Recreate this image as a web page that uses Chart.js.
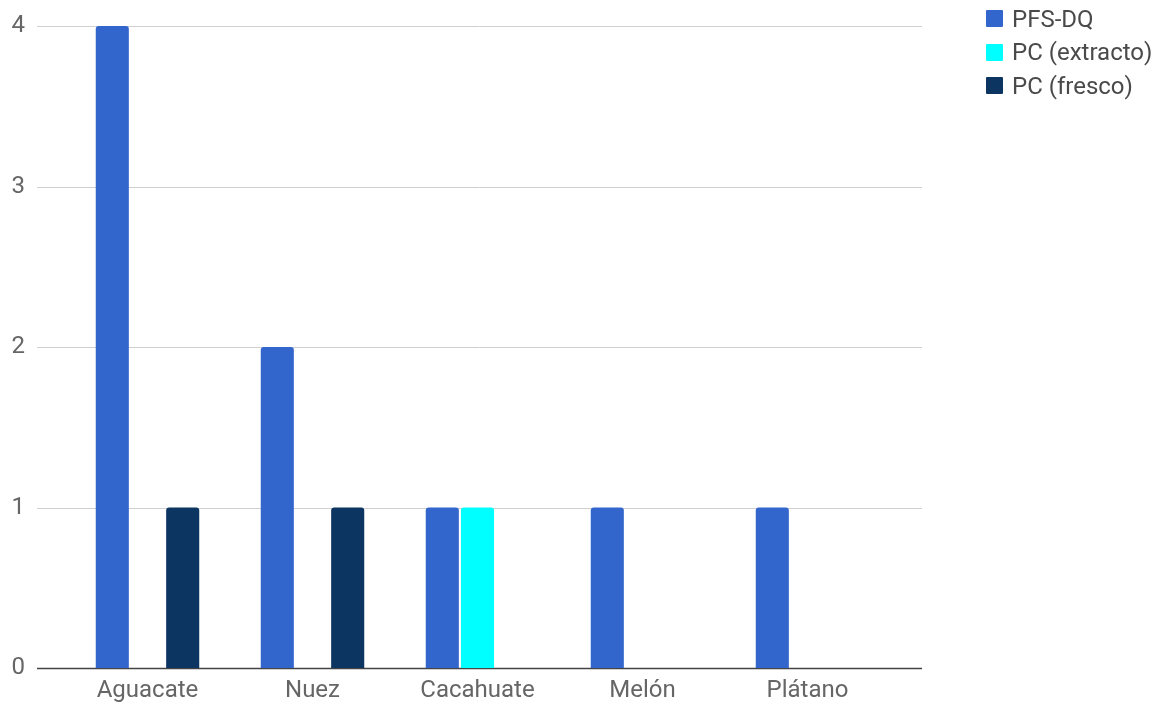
<!DOCTYPE html>
<html>
<head>
<meta charset="utf-8">
<script src="https://cdn.jsdelivr.net/npm/chart.js@4.4.0/dist/chart.umd.min.js"></script>
<style>
  html, body { margin: 0; padding: 0; background: #fff; }
  #wrap { position: relative; width: 1164px; height: 708px; }
  #chart { display: block; }
  #legend { position: absolute; left: 986px; top: 2px; font-family: Roboto, sans-serif; font-size: 24px; color: #4a4a4a; }
  .leg-item { display: flex; align-items: center; height: 33.5px; }
  .leg-box { width: 17px; height: 17px; margin-right: 9px; border-radius: 1px; }
</style>
</head>
<body>
<div id="wrap">
  <canvas id="chart" width="1164" height="708"></canvas>
  <div id="legend"></div>
</div>
<script>
// categorías y series
const categorias = ['Aguacate', 'Nuez', 'Cacahuate', 'Melón', 'Plátano'];
const serieNombres = ['PFS-DQ', 'PC (extracto)', 'PC (fresco)'];
const pfsDq = [4, 2, 1, 1, 1];
const pcExtracto = [null, null, 1, null, null];
const pcFresco = [1, 1, null, null, null];
const yTicks = [0, 1, 2, 3, 4];
const colores = ['#3366cc', '#00ffff', '#0c3561'];

// líneas horizontales más largas que el área de barras
const gridPlugin = {
  id: 'gridExtendida',
  beforeDatasetsDraw(chart) {
    const ctx = chart.ctx;
    const y = chart.scales.y;
    ctx.save();
    yTicks.forEach(v => {
      const py = Math.round(y.getPixelForValue(v)) + 0.5;
      ctx.beginPath();
      ctx.strokeStyle = v === 0 ? '#444' : '#d0d0d0';
      ctx.lineWidth = v === 0 ? 1.6 : 1;
      ctx.moveTo(37, py);
      ctx.lineTo(922, py);
      ctx.stroke();
    });
    ctx.restore();
  }
};

const series = [pfsDq, pcExtracto, pcFresco];
const datasets = series.map((d, i) => ({
  label: serieNombres[i],
  data: d,
  backgroundColor: colores[i],
  borderWidth: 0,
  borderRadius: 3,
  borderSkipped: 'start',
  categoryPercentage: 0.64,
  barPercentage: 0.94
}));

const chart = new Chart(document.getElementById('chart').getContext('2d'), {
  type: 'bar',
  data: { labels: categorias, datasets: datasets },
  options: {
    responsive: false,
    animation: false,
    layout: { padding: { top: 26, right: 274, left: 0, bottom: 0 } },
    plugins: {
      legend: { display: false },
      tooltip: { enabled: false }
    },
    scales: {
      x: {
        afterFit(scale) { scale.height = 40; scale.paddingLeft = 0; scale.paddingRight = 0; },
        grid: { display: false, drawTicks: false },
        border: { display: false },
        ticks: {
          color: '#666',
          font: { family: 'Roboto', size: 24 },
          padding: 9
        }
      },
      y: {
        min: 0,
        max: 4,
        afterFit(scale) { scale.width = 65; scale.paddingTop = 0; scale.paddingBottom = 0; },
        afterBuildTicks(scale) { scale.ticks = yTicks.map(v => ({ value: v })); },
        grid: { display: false, drawTicks: false },
        border: { display: false },
        ticks: {
          color: '#666',
          font: { family: 'Roboto', size: 24 },
          padding: 40
        }
      }
    }
  },
  plugins: [gridPlugin]
});

// leyenda
const legend = document.getElementById('legend');
serieNombres.forEach((n, i) => {
  const item = document.createElement('div');
  item.className = 'leg-item';
  const box = document.createElement('span');
  box.className = 'leg-box';
  box.style.background = colores[i];
  const txt = document.createElement('span');
  txt.textContent = n;
  item.appendChild(box);
  item.appendChild(txt);
  legend.appendChild(item);
});
</script>
</body>
</html>
